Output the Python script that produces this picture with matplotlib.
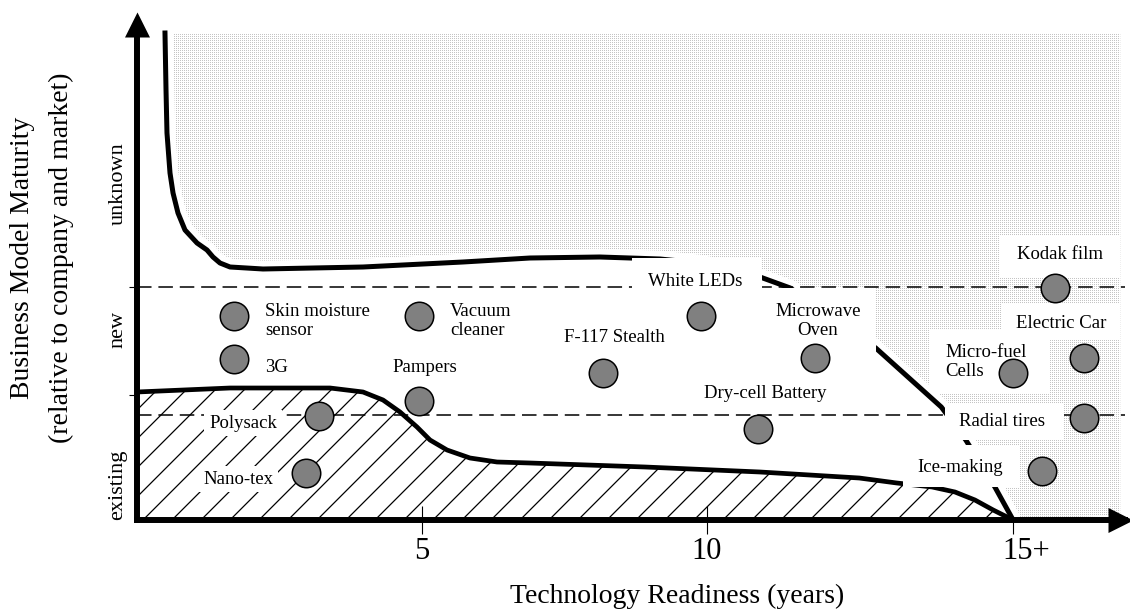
import matplotlib
matplotlib.use("Agg")
import matplotlib.pyplot as plt
import numpy as np
from matplotlib.patches import Polygon, Rectangle
from matplotlib.collections import LineCollection
from matplotlib.transforms import ScaledTranslation

plt.rcParams['font.family'] = ['Liberation Serif', 'DejaVu Serif']

# ---------------- data ----------------
technologies = ["Skin moisture\nsensor", "3G", "Vacuum\ncleaner", "Pampers", "Polysack",
                "Nano-tex", "F-117 Stealth", "White LEDs", "Microwave\nOven",
                "Dry-cell Battery", "Kodak film", "Electric Car", "Micro-fuel\nCells",
                "Radial tires", "Ice-making"]
readiness_years = [1.70, 1.70, 4.95, 4.95, 3.19, 2.96, 8.18, 9.89, 11.89, 10.89,
                   16.11, 16.61, 15.37, 16.61, 15.88]
model_maturity = [2.04, 1.61, 2.04, 1.19, 1.04, 0.47, 1.47, 2.04, 1.62, 0.91,
                  2.32, 1.62, 1.47, 1.02, 0.49]

# frontier of the "unknown" (stippled) zone
upper_x = [0.491, 0.509, 0.526, 0.579, 0.632, 0.719, 0.842, 1.053, 1.228, 1.333, 1.456,
           1.632, 2.211, 3.965, 5.719, 6.895, 8.12, 9.175, 9.877, 10.40, 10.93, 11.46,
           12.96, 14.11, 14.54, 15.05, 15.37]
upper_y = [4.87, 4.30, 3.87, 3.47, 3.27, 3.07, 2.90, 2.77, 2.70, 2.63, 2.57,
           2.53, 2.51, 2.53, 2.58, 2.62, 2.63, 2.61, 2.57, 2.51, 2.43, 2.32,
           1.72, 1.13, 0.80, 0.33, 0.00]
# frontier of the "existing" (hatched) zone
lower_x = [0.0, 1.632, 3.386, 3.965, 4.316, 4.614, 4.912, 5.140, 5.439, 5.842, 6.316,
           6.895, 8.912, 10.93, 12.67, 13.33, 13.95, 14.35, 14.70, 15.02, 15.37]
lower_y = [1.28, 1.32, 1.32, 1.28, 1.20, 1.08, 0.93, 0.80, 0.70, 0.62, 0.58,
           0.57, 0.53, 0.48, 0.42, 0.37, 0.33, 0.28, 0.20, 0.10, 0.00]

band_boundaries = [1.05, 2.33]
band_names = ["existing", "new", "unknown"]
x_tick_values = [5, 10, 15.37]
x_tick_labels = ["5", "10", "15+"]
y_tick_values = [1.25, 2.33]

# ---------------- layout ----------------
W, H, DPI = 11.3, 6.12, 100
fig = plt.figure(figsize=(W, H), dpi=DPI)
fig.patch.set_facecolor('white')
ax = fig.add_axes([137 / 1130, 92 / 612, 988 / 1130, 510 / 612])
ax.patch.set_visible(False)
XMAX, YMAX = 17.333, 5.1
ax.set_xlim(0, XMAX)
ax.set_ylim(0, YMAX)

for s in ['top', 'right']:
    ax.spines[s].set_visible(False)
for s in ['left', 'bottom']:
    ax.spines[s].set_linewidth(4.3)
    ax.spines[s].set_color('black')
    ax.spines[s].set_zorder(6)
ax.spines['left'].set_bounds(0, 4.85)

# arrow heads
head = [(0, 0), (-1, 0.5), (-1, -0.5)]
head_up = [(0, 0), (0.5, -1), (-0.5, -1)]
ax.plot([17.48], [0], marker=head, markersize=36, color='black', mew=0, clip_on=False, zorder=7)
ax.plot([0], [5.08], marker=head_up, markersize=36, color='black', mew=0, clip_on=False, zorder=7)

ax.set_xticks(x_tick_values)
ax.set_xticklabels(x_tick_labels, fontsize=22)
ax.tick_params(axis='x', direction='inout', length=20, width=0.8, pad=2, color='black')
lbls = ax.get_xticklabels()
lbls[-1].set_transform(lbls[-1].get_transform() + ScaledTranslation(0.13, 0, fig.dpi_scale_trans))
ax.set_yticks(y_tick_values)
ax.set_yticklabels([])
ax.tick_params(axis='y', direction='out', length=6, width=0.8, color='black')

# conversion factors (pixel geometry of data units)
p0 = ax.transData.transform((0, 0))
p1 = ax.transData.transform((1, 1))
sx, sy = p1[0] - p0[0], p1[1] - p0[1]

# stippled unknown zone (fine dot texture clipped to the zone)
stip_pts = list(zip(upper_x, upper_y)) + [(17.25, 0.05), (17.25, 4.87)]
stip = Polygon(stip_pts, closed=True, transform=ax.transData)
npx_w, npx_h = int(W * DPI), int(H * DPI)
ii, jj = np.mgrid[0:npx_h, 0:npx_w]
tex = np.ones((npx_h, npx_w, 3))
dots = ((ii % 2) == 0) & ((jj % 2) == 0)
tex[dots] = 0.77
im = fig.figimage(tex, xo=0, yo=0, origin='upper', zorder=-1)
im.set_clip_path(stip)

# hatched existing zone
hatch_pts = list(zip(lower_x, lower_y)) + [(15.37, 0), (0, 0)]
hpoly = Polygon(hatch_pts, closed=True, facecolor='white', edgecolor='none', zorder=1.2)
ax.add_patch(hpoly)
spacing = 29 / sx
slope = sx / sy
segs = []
for x0 in np.arange(-6, 16, spacing):
    segs.append([(x0, 0), (x0 + 4, 4 * slope)])
lc = LineCollection(segs, colors='black', linewidths=0.9, zorder=1.5)
lc.set_clip_path(hpoly)
ax.add_collection(lc)

# curves
ax.plot(upper_x, upper_y, color='white', lw=12, solid_capstyle='butt', zorder=1.8)
ax.plot(upper_x, upper_y, color='black', lw=3.6, solid_joinstyle='round', zorder=2)
ax.plot(lower_x, lower_y, color='black', lw=3.4, solid_joinstyle='round', zorder=2)

# dashed band boundaries
for yb in band_boundaries:
    ax.plot([0, XMAX], [yb, yb], color='black', lw=1.1, dashes=(9.5, 4.5), zorder=2.2)

# label boxes / text
# (x, y, ha, box) box = (cx, cy, w_px, h_px) or None
label_layout = [
    (2.246, 1.99, 'left', None),
    (2.246, 1.53, 'left', None),
    (5.491, 1.99, 'left', None),
    (5.053, 1.53, 'center', None),
    (1.860, 0.97, 'center', None),
    (1.772, 0.41, 'center', None),
    (8.368, 1.83, 'center', None),
    (9.789, 2.38, 'center', (9.825, 2.44, 130, 36)),
    (11.947, 1.99, 'center', (11.947, 2.00, 116, 64)),
    (11.018, 1.26, 'center', (11.018, 1.27, 140, 42)),
    (16.193, 2.65, 'center', (16.184, 2.635, 121, 41)),
    (16.211, 1.97, 'center', (16.193, 1.985, 118, 37)),
    (14.175, 1.58, 'left', (14.956, 1.585, 119, 63)),
    (15.175, 0.98, 'center', (15.219, 0.985, 119, 37)),
    (14.439, 0.52, 'center', (14.465, 0.54, 117, 42)),
]
for name, (tx, ty, ha, box) in zip(technologies, label_layout):
    if box is None:
        ax.text(tx, ty, name, ha=ha, va='center', fontsize=13.5, linespacing=1.1,
                zorder=5, bbox=dict(boxstyle='square,pad=0.25', fc='white', ec='none'))
    else:
        cx, cy, wpx, hpx = box
        tr = fig.dpi_scale_trans + ScaledTranslation(cx, cy, ax.transData)
        r = Rectangle((-wpx / 2 / DPI, -hpx / 2 / DPI), wpx / DPI, hpx / DPI,
                      transform=tr, facecolor='white', edgecolor='none', zorder=3)
        ax.add_artist(r)
        ax.text(tx, ty, name, ha=ha, va='center', fontsize=13.5, linespacing=1.1, zorder=5)

# points
ax.plot(readiness_years, model_maturity, 'o', markersize=20.5, markerfacecolor='#808080',
        markeredgecolor='black', markeredgewidth=1.1, zorder=4, clip_on=False)

# band names
band_centers = [0.35, 1.91, 3.36]
for nm, yc in zip(band_names, band_centers):
    ax.text(-0.333, yc, nm, rotation=90, ha='center', va='center', fontsize=16, clip_on=False)

# axis titles
ax.text(-2.0, 2.62, "Business Model Maturity", rotation=90, ha='center', va='center',
        fontsize=20, clip_on=False)
ax.text(-1.333, 2.62, "(relative to company and market)", rotation=90, ha='center',
        va='center', fontsize=20, clip_on=False)
ax.text(9.474, -0.76, "Technology Readiness (years)", ha='center', va='center',
        fontsize=20, clip_on=False)

fig.savefig("out.png", dpi=DPI)
